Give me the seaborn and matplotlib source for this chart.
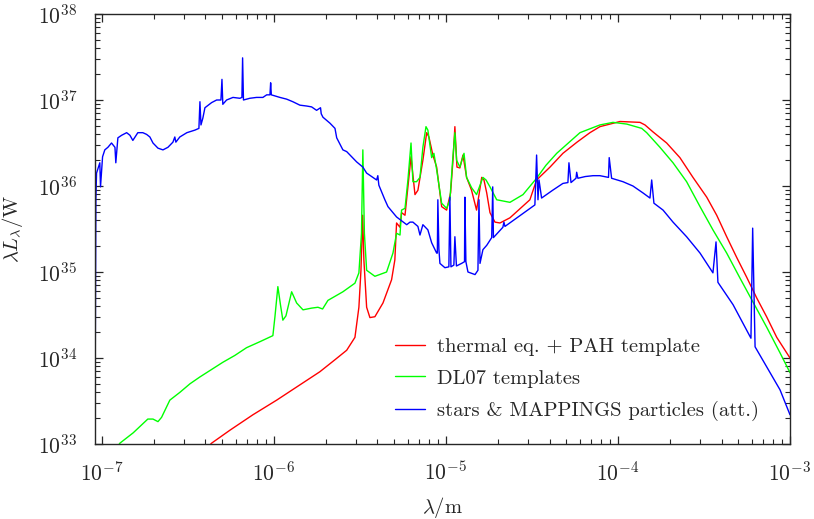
import numpy as np
import pandas as pd
import matplotlib
matplotlib.use("Agg")
import matplotlib.pyplot as plt
import seaborn as sns

# log10(wavelength / m) and log10(lambda L_lambda / W)
blue_logx = [-7.039, -7.035, -7.031, -7.012, -7.008, -6.996, -6.983, -6.965, -6.944, -6.924,
             -6.919, -6.907, -6.885, -6.856, -6.837, -6.820, -6.791, -6.762, -6.740, -6.721,
             -6.703, -6.674, -6.645, -6.616, -6.587, -6.576, -6.570, -6.547, -6.506, -6.459,
             -6.436, -6.430, -6.424, -6.413, -6.401, -6.362, -6.333, -6.308, -6.302, -6.297,
             -6.275, -6.238, -6.198, -6.186, -6.182, -6.177, -6.140, -6.101, -6.064, -6.042,
             -6.023, -6.019, -6.015, -5.965, -5.926, -5.890, -5.849, -5.810, -5.781, -5.752,
             -5.729, -5.725, -5.715, -5.674, -5.645, -5.635, -5.599, -5.577, -5.519, -5.483,
             -5.461, -5.403, -5.396, -5.390, -5.355, -5.337, -5.287, -5.228, -5.209, -5.192,
             -5.163, -5.151, -5.134, -5.105, -5.083, -5.054, -5.050, -5.047, -5.041, -5.035,
             -5.006, -4.983, -4.977, -4.971, -4.954, -4.948, -4.939, -4.909, -4.892, -4.890,
             -4.884, -4.872, -4.831, -4.814, -4.808, -4.802, -4.785, -4.763, -4.734, -4.728,
             -4.724, -4.669, -4.663, -4.657, -4.483, -4.473, -4.465, -4.459, -4.444, -4.380,
             -4.320, -4.291, -4.285, -4.273, -4.244, -4.240, -4.233, -4.190, -4.145, -4.105,
             -4.055, -4.051, -4.037, -3.971, -3.913, -3.855, -3.814, -3.804, -3.791, -3.738,
             -3.680, -3.601, -3.523, -3.448, -3.430, -3.419, -3.331, -3.227, -3.217, -3.203,
             -3.136, -3.058, -3.000]
blue_logy = [33.74, 35.84, 36.15, 36.27, 35.99, 36.34, 36.42, 36.45, 36.50, 36.45,
             36.27, 36.56, 36.59, 36.62, 36.59, 36.53, 36.62, 36.62, 36.60, 36.57,
             36.50, 36.44, 36.42, 36.45, 36.51, 36.57, 36.51, 36.57, 36.62, 36.65,
             36.67, 36.98, 36.71, 36.79, 36.91, 36.97, 37.00, 37.00, 37.24, 36.95,
             37.00, 37.03, 37.02, 37.03, 37.49, 37.00, 37.02, 37.03, 37.03, 37.06,
             37.06, 37.20, 37.06, 37.03, 37.01, 36.98, 36.94, 36.93, 36.92, 36.88,
             36.91, 36.84, 36.80, 36.73, 36.67, 36.56, 36.42, 36.40, 36.28, 36.22,
             36.15, 36.07, 36.12, 36.01, 35.84, 35.76, 35.64, 35.55, 35.58, 35.58,
             35.53, 35.43, 35.55, 35.49, 35.34, 35.22, 35.22, 35.84, 35.27, 35.10,
             35.05, 35.06, 35.87, 35.06, 35.08, 35.41, 35.07, 35.10, 35.12, 35.87,
             35.12, 35.00, 34.97, 35.02, 35.84, 35.10, 35.26, 35.31, 35.40, 35.99,
             35.40, 35.52, 35.58, 35.53, 35.78, 36.36, 35.84, 36.07, 35.86, 35.95,
             36.03, 36.04, 36.27, 36.04, 36.09, 36.16, 36.09, 36.11, 36.12, 36.12,
             36.10, 36.33, 36.09, 36.05, 36.00, 35.92, 35.86, 36.07, 35.80, 35.72,
             35.58, 35.41, 35.22, 34.99, 35.35, 34.88, 34.62, 34.23, 35.51, 34.13,
             33.90, 33.63, 33.34]

red_logx = [-6.401, -6.362, -6.256, -6.122, -5.984, -5.733, -5.645, -5.577, -5.529, -5.506,
            -5.494, -5.484, -5.477, -5.461, -5.442, -5.413, -5.366, -5.316, -5.297, -5.287,
            -5.267, -5.258, -5.238, -5.221, -5.203, -5.180, -5.163, -5.134, -5.112, -5.099,
            -5.076, -5.054, -5.025, -4.996, -4.973, -4.959, -4.948, -4.936, -4.919, -4.901,
            -4.880, -4.851, -4.822, -4.792, -4.779, -4.763, -4.744, -4.715, -4.686, -4.628,
            -4.512, -4.473, -4.395, -4.320, -4.238, -4.163, -4.105, -3.988, -3.872, -3.843,
            -3.797, -3.717, -3.640, -3.564, -3.484, -3.426, -3.368, -3.310, -3.252, -3.194,
            -3.136, -3.077, -3.000]
red_logy = [32.93, 33.01, 33.16, 33.34, 33.51, 33.84, 33.98, 34.09, 34.24, 34.59,
            35.02, 35.66, 35.14, 34.59, 34.47, 34.48, 34.64, 34.91, 35.14, 35.57,
            35.52, 35.69, 35.66, 35.99, 36.34, 35.90, 35.95, 36.30, 36.62, 36.57,
            36.36, 36.22, 35.76, 35.72, 35.92, 36.30, 36.69, 36.22, 36.21, 36.36,
            36.10, 35.95, 35.72, 36.10, 36.07, 35.92, 35.69, 35.58, 35.57, 35.63,
            35.84, 36.07, 36.22, 36.38, 36.51, 36.62, 36.69, 36.75, 36.74, 36.71,
            36.63, 36.50, 36.33, 36.10, 35.87, 35.66, 35.41, 35.17, 34.94, 34.70,
            34.48, 34.24, 34.00]

green_logx = [-6.924, -6.895, -6.818, -6.733, -6.703, -6.674, -6.653, -6.605, -6.547, -6.488,
              -6.430, -6.297, -6.227, -6.159, -6.081, -6.006, -5.994, -5.977, -5.962, -5.948,
              -5.930, -5.897, -5.868, -5.831, -5.781, -5.744, -5.717, -5.686, -5.599, -5.529,
              -5.506, -5.491, -5.483, -5.474, -5.461, -5.413, -5.345, -5.308, -5.287, -5.267,
              -5.258, -5.238, -5.221, -5.203, -5.192, -5.171, -5.151, -5.134, -5.116, -5.105,
              -5.083, -5.070, -5.054, -5.025, -4.996, -4.977, -4.961, -4.948, -4.938, -4.919,
              -4.895, -4.880, -4.851, -4.822, -4.785, -4.767, -4.744, -4.705, -4.628, -4.552,
              -4.473, -4.419, -4.356, -4.221, -4.105, -4.029, -3.949, -3.862, -3.833, -3.756,
              -3.680, -3.601, -3.523, -3.448, -3.368, -3.291, -3.215, -3.136, -3.058, -3.000]
green_logy = [32.93, 33.01, 33.13, 33.29, 33.29, 33.26, 33.31, 33.51, 33.60, 33.70,
              33.78, 33.95, 34.03, 34.12, 34.19, 34.26, 34.48, 34.83, 34.62, 34.44,
              34.49, 34.77, 34.64, 34.56, 34.58, 34.59, 34.57, 34.67, 34.77, 34.87,
              34.99, 35.45, 36.42, 35.45, 35.02, 34.95, 35.00, 35.22, 35.45, 35.43,
              35.72, 35.74, 36.07, 36.50, 36.05, 36.05, 36.10, 36.45, 36.69, 36.65,
              36.33, 36.38, 36.19, 35.80, 35.74, 35.84, 36.30, 36.62, 36.30, 36.22,
              36.38, 36.10, 35.98, 35.90, 36.10, 36.07, 35.99, 35.84, 35.81, 35.90,
              36.09, 36.24, 36.38, 36.62, 36.71, 36.74, 36.72, 36.67, 36.62, 36.45,
              36.27, 36.05, 35.76, 35.49, 35.22, 34.93, 34.65, 34.36, 34.06, 33.83]

labels = ["thermal eq. + PAH template", "DL07 templates",
          "stars & MAPPINGS particles (att.)"]
colors = ["#ff0000", "#00ff00", "#0000ff"]

sns.set_style("ticks")
plt.rcParams["font.family"] = ["serif"]
plt.rcParams["font.serif"] = ["cmr10", "DejaVu Serif"]
plt.rcParams["mathtext.fontset"] = "cm"
plt.rcParams["axes.unicode_minus"] = False
plt.rcParams["axes.formatter.use_mathtext"] = True

FS = 14.8
TFS = 15.5
fig = plt.figure(figsize=(8.14, 5.19), dpi=100)
ax = fig.add_axes([95 / 814, 1 - 444 / 519, 695 / 814, 430 / 519])

series = [(red_logx, red_logy), (green_logx, green_logy), (blue_logx, blue_logy)]
for (lx, ly), lab, col in zip(series, labels, colors):
    df = pd.DataFrame({"wl": 10.0 ** np.array(lx), "L": 10.0 ** np.array(ly)})
    sns.lineplot(data=df, x="wl", y="L", ax=ax, color=col, lw=1.0, sort=False,
                 estimator=None, label=lab)

ax.set_xscale("log")
ax.set_yscale("log")
ax.set_xlim(10 ** -7.04, 1e-3)
ax.set_ylim(1e33, 1e38)
ax.set_xlabel(r"$\lambda/\mathrm{m}$", fontsize=FS)
ax.set_ylabel(r"$\lambda L_\lambda/\mathrm{W}$", fontsize=FS)
ax.xaxis.set_label_coords(0.5, -0.119)
ax.yaxis.set_label_coords(-0.100, 0.5)
ax.tick_params(which="both", direction="in", top=True, right=True, labelsize=TFS)
ax.tick_params(axis="x", which="major", pad=12)
ax.tick_params(axis="y", which="major", pad=13)
ax.tick_params(which="major", length=6, width=0.9)
ax.tick_params(which="minor", length=3.5, width=0.8)
ax.xaxis.set_major_locator(matplotlib.ticker.LogLocator(base=10, numticks=10))
ax.xaxis.set_minor_locator(matplotlib.ticker.LogLocator(base=10, subs=np.arange(2, 10), numticks=20))
ax.yaxis.set_minor_locator(matplotlib.ticker.LogLocator(base=10, subs=np.arange(2, 10), numticks=20))
ax.xaxis.set_minor_formatter(matplotlib.ticker.NullFormatter())
ax.yaxis.set_minor_formatter(matplotlib.ticker.NullFormatter())
for s in ax.spines.values():
    s.set_linewidth(1.0)
    s.set_visible(True)
ax.legend(loc="upper left", bbox_to_anchor=(0.42, 0.267), frameon=False, fontsize=FS,
          handlelength=1.45, handletextpad=0.6, labelspacing=0.65, borderaxespad=0)

fig.savefig("out.png", dpi=100)
